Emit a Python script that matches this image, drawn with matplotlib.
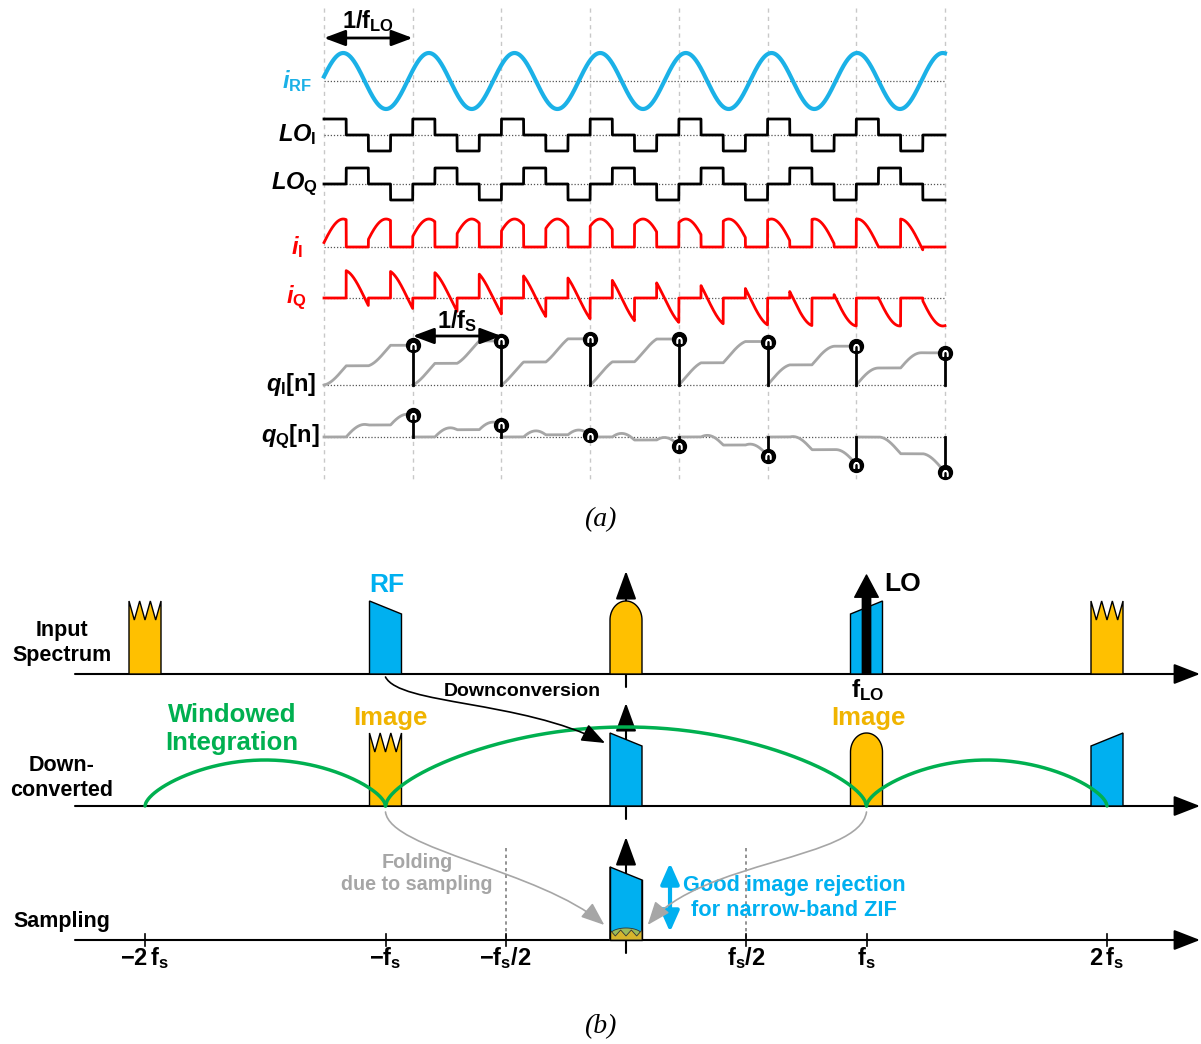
import numpy as np
import matplotlib
matplotlib.use('Agg')
import matplotlib.pyplot as plt
from matplotlib.patches import Polygon, FancyArrowPatch
from matplotlib.path import Path

plt.rcParams['mathtext.fontset'] = 'custom'
plt.rcParams['mathtext.rm'] = 'Liberation Sans:bold'
plt.rcParams['mathtext.it'] = 'Liberation Sans:bold:italic'
plt.rcParams['mathtext.bf'] = 'Liberation Sans:bold'
plt.rcParams['mathtext.sf'] = 'Liberation Sans:bold'

SANS = 'Liberation Sans'
BLUE = '#00B0F0'
YELLOW = '#FFC000'
IMG_TXT = '#F0B400'
GREEN = '#00B050'
GRAY = '#A6A6A6'

# ---------------- (a) time-domain waveforms ----------------
n_periods = 7                      # LO periods shown (fs = fLO)
rf_ratio = 7.25 / 7                # f_RF / f_LO
rf_phase = 0.16                    # rad at t = 0
lo_i_levels = [1, 0, -1, 0]        # LO_I level per quarter period
lo_q_levels = [0, 1, 0, -1]        # LO_Q level per quarter period

trace_names = ['rf', 'loi', 'loq', 'ii', 'iq', 'qi', 'qq']
trace_base = [81, 135, 184, 247, 298, 385, 437]
trace_labels = [r'$i_{\mathrm{RF}}$', r'$LO_{\mathrm{I}}$', r'$LO_{\mathrm{Q}}$',
                r'$i_{\mathrm{I}}$', r'$i_{\mathrm{Q}}$',
                r'$q_{\mathrm{I}}\mathrm{[n]}$', r'$q_{\mathrm{Q}}\mathrm{[n]}$']
trace_colors = ['#1BB1E7', 'black', 'black', '#FF0000', '#FF0000', 'black', 'black']
label_right = [-0.135, -0.09, -0.07, -0.237, -0.2, -0.08, -0.045]

# ---------------- (b) spectra ----------------
in_centers = [-2, -1, 0, 1, 2]
in_kinds = ['zigzag', 'fall', 'dome', 'rise', 'zigzag']
dc_centers = [-1, 0, 1, 2]
dc_kinds = ['zigzag', 'fall', 'dome', 'rise']
smp_centers = [0]
smp_kinds = ['fall']
lobe_edges = [-2, -1, 1, 2]
lobe_heights = [46, 79, 46]
tick_pos = [-2, -1, -0.5, 0.5, 1, 2]
tick_labels = [r'$\mathsf{-2\,f_s}$', r'$\mathsf{-f_s}$', r'$\mathsf{-f_s/2}$',
               r'$\mathsf{f_s/2}$', r'$\mathsf{f_s}$', r'$\mathsf{2\,f_s}$']

W, H = 1201, 1044
fig = plt.figure(figsize=(W / 100, H / 100), dpi=100)

# ======== panel (a) ========
ax_a = fig.add_axes([0, 1 - 500 / H, 1, 500 / H])
px_per_t = 88.71
ax_a.set_xlim(-324 / px_per_t, (W - 324) / px_per_t)
ax_a.set_ylim(500, 0)
ax_a.axis('off')

t = np.linspace(0, n_periods, 14001)
dt = t[1] - t[0]
m = (len(t) - 1) // n_periods
rf = np.sin(2 * np.pi * rf_ratio * t + rf_phase)
quarter = (np.minimum(np.floor(t * 4), 4 * n_periods - 1) % 4).astype(int)
lo_i = np.array(lo_i_levels)[quarter]
lo_q = np.array(lo_q_levels)[quarter]
i_i = rf * lo_i
i_q = rf * lo_q

base = dict(zip(trace_names, trace_base))

for k in range(n_periods + 1):
    ax_a.plot([k, k], [8, 482], color='#C8C8C8', lw=1, ls=(0, (3, 3)), zorder=0)
for b in trace_base:
    ax_a.plot([0, n_periods], [b, b], color='#555555', lw=0.9, ls=(0, (1, 1.5)), zorder=1)

ax_a.plot(t, base['rf'] - 28 * rf, color=trace_colors[0], lw=3, zorder=3)
ax_a.plot(t, base['loi'] - 16 * lo_i, color='black', lw=2, zorder=3)
ax_a.plot(t, base['loq'] - 16 * lo_q, color='black', lw=2, zorder=3)
ax_a.plot(t, base['ii'] - 28 * i_i, color='#FF0000', lw=2, zorder=3)
ax_a.plot(t, base['iq'] - 28 * i_q, color='#FF0000', lw=2, zorder=3)

# windowed integration, reset every sample period
q_gain = 104
for name, sig in (('qi', i_i), ('qq', i_q)):
    b = base[name]
    for k in range(n_periods):
        seg = sig[k * m:(k + 1) * m + 1]
        acc = np.concatenate([[0], np.cumsum((seg[1:] + seg[:-1]) / 2 * dt)])
        ax_a.plot(t[k * m:(k + 1) * m + 1], b - q_gain * acc, color=GRAY, lw=2, zorder=3)
        ax_a.plot([k + 1, k + 1], [b, b - q_gain * acc[-1]], color='black', lw=2, zorder=4)
        ax_a.plot(k + 1, b - q_gain * acc[-1], 'o', ms=10, color='black', zorder=5)
        ax_a.plot(k + 1, b - q_gain * acc[-1] + 0.5, marker=r'$\cap$', ms=4, color='white', zorder=6)

for lab, col, xr, b in zip(trace_labels, trace_colors, label_right, trace_base):
    ax_a.text(xr, b, lab, ha='right', va='center', fontsize=17, color=col)

ax_a.annotate('', xy=(0, 38), xytext=(1, 38),
              arrowprops=dict(arrowstyle='<|-|>,head_length=0.8,head_width=0.3', lw=2,
                              color='black', mutation_scale=16, shrinkA=0, shrinkB=0))
ax_a.text(0.5, 21, r'$1/\mathrm{f}_{\mathrm{LO}}$', ha='center', va='center', fontsize=17)
ax_a.annotate('', xy=(1, 336), xytext=(2, 336),
              arrowprops=dict(arrowstyle='<|-|>,head_length=0.8,head_width=0.3', lw=2,
                              color='black', mutation_scale=16, shrinkA=0, shrinkB=0))
ax_a.text(1.5, 321, r'$1/\mathrm{f}_{\mathrm{S}}$', ha='center', va='center', fontsize=17)

# ======== panel (b) ========
ax_b = fig.add_axes([0, 0, 1, 544 / H])
fs_px = 240.5
ax_b.set_xlim(-626 / fs_px, (W - 626) / fs_px)
ax_b.set_ylim(H, 500)
ax_b.axis('off')

rows = [674, 806, 940]
hw = 16 / fs_px
tall, short, shoulder = 73, 60, 54


def band(c, y0, kind):
    if kind == 'zigzag':
        xs = c + np.linspace(-hw, hw, 7)
        ys = [y0 - (tall if j % 2 == 0 else shoulder) for j in range(7)]
        pts = [(c - hw, y0)] + list(zip(xs, ys)) + [(c + hw, y0)]
        col = YELLOW
    elif kind == 'dome':
        th = np.linspace(np.pi, 0, 40)
        pts = [(c - hw, y0)] + list(zip(c + hw * np.cos(th),
                                        y0 - shoulder - 19 * np.sin(th))) + [(c + hw, y0)]
        col = YELLOW
    else:
        hl, hr = (tall, short) if kind == 'fall' else (short, tall)
        pts = [(c - hw, y0), (c - hw, y0 - hl), (c + hw, y0 - hr), (c + hw, y0)]
        col = BLUE
    ax_b.add_patch(Polygon(pts, closed=True, fc=col, ec='black', lw=1, zorder=3))


for y0, centers, kinds in zip(rows, [in_centers, dc_centers, smp_centers],
                              [in_kinds, dc_kinds, smp_kinds]):
    for c, kd in zip(centers, kinds):
        band(c, y0, kd)
    # frequency axis
    ax_b.annotate('', xy=((W - 1 - 626) / fs_px, y0), xytext=(-551 / fs_px, y0),
                  arrowprops=dict(arrowstyle='-|>,head_length=0.9,head_width=0.35',
                                  lw=1.5, color='black', mutation_scale=18,
                                  shrinkA=0, shrinkB=0), zorder=2)
    # DC arrow (drawn beneath the bands)
    ax_b.annotate('', xy=(0, y0 - 103), xytext=(0, y0 + 13),
                  arrowprops=dict(arrowstyle='-|>,head_length=1.1,head_width=0.4',
                                  lw=1.5, color='black', mutation_scale=16,
                                  shrinkA=0, shrinkB=0), zorder=2)

# aliased image folded on top of DC after sampling
y3 = rows[2]
th = np.linspace(np.pi, 0, 40)
ax_b.add_patch(Polygon([(-hw, y3)] + list(zip(hw * np.cos(th), y3 - 5 - 7 * np.sin(th))) + [(hw, y3)],
                       closed=True, fc='#9BBB59', ec='#333333', lw=0.6, zorder=5))
zx = np.linspace(-hw, hw, 7)
zy = [y3 - (10 if j % 2 == 0 else 4) for j in range(7)]
ax_b.add_patch(Polygon([(-hw, y3)] + list(zip(zx, zy)) + [(hw, y3)],
                       closed=True, fc='#D6B52C', ec='#333333', lw=0.6, zorder=6))
ax_b.plot([-hw, -hw, hw, hw], [y3 - 73, y3, y3, y3 - 60], color='black', lw=1, zorder=7)

# LO tone
ax_b.annotate('', xy=(1.0, 575), xytext=(1.0, 674),
              arrowprops=dict(arrowstyle='simple,head_length=0.8,head_width=0.85,tail_width=0.3',
                              fc='black', ec='black', mutation_scale=20, shrinkA=0, shrinkB=0),
              zorder=5)

# windowed-integration response
for a, b, h in zip(lobe_edges[:-1], lobe_edges[1:], lobe_heights):
    f = np.linspace(a, b, 300)
    ax_b.plot(f, rows[1] - h * np.sin(np.pi * (f - a) / (b - a)) ** 0.6,
              color=GREEN, lw=2.5, zorder=6, solid_capstyle='round')

# ticks on the sampled axis
for p, lab in zip(tick_pos, tick_labels):
    ax_b.plot([p, p], [y3 - 6, y3 + 6], color='black', lw=1.2, zorder=4)
    ax_b.text(p, 958, lab, ha='center', va='center', fontsize=17)
for p in (-0.5, 0.5):
    ax_b.plot([p, p], [848, y3], color='#808080', lw=1.2, ls=(0, (2, 2)), zorder=1)


# curved arrows
def curve(verts, color, lw, ms):
    path = Path(verts, [Path.MOVETO, Path.CURVE4, Path.CURVE4, Path.CURVE4])
    ax_b.add_patch(FancyArrowPatch(path=path, arrowstyle='-|>,head_length=0.9,head_width=0.35',
                                   color=color, lw=lw, mutation_scale=ms, zorder=8))


curve([(-1.0, 677), (-0.94, 705), (-0.44, 700), (-0.087, 743)], 'black', 1.2, 16)
curve([(-1.0, 812), (-0.98, 850), (-0.36, 870), (-0.09, 925)], GRAY, 1.2, 16)
curve([(1.0, 812), (0.97, 860), (0.31, 860), (0.09, 925)], GRAY, 1.2, 16)

ax_b.annotate('', xy=(0.183, 863), xytext=(0.183, 932),
              arrowprops=dict(arrowstyle='<|-|>,head_length=0.9,head_width=0.4', lw=3,
                              color=BLUE, mutation_scale=14, shrinkA=0, shrinkB=0))

txt = dict(fontfamily=SANS, fontweight='bold', ha='center', va='center')
ax_b.text(-2.345, 643, 'Input\nSpectrum', fontsize=15.5, **txt)
ax_b.text(-2.345, 778, 'Down-\nconverted', fontsize=15.5, **txt)
ax_b.text(-2.345, 921, 'Sampling', fontsize=15.5, **txt)
ax_b.text(-0.994, 585, 'RF', fontsize=19, color=BLUE, **txt)
ax_b.text(1.152, 584, 'LO', fontsize=19, **txt)
ax_b.text(1.006, 690, r'$\mathsf{f_{LO}}$', fontsize=17.5, ha='center', va='center')
ax_b.text(-0.981, 718, 'Image', fontsize=18.5, color=IMG_TXT, **txt)
ax_b.text(1.006, 718, 'Image', fontsize=18.5, color=IMG_TXT, **txt)
ax_b.text(-1.638, 729, 'Windowed\nIntegration', fontsize=18.5, color=GREEN, **txt)
ax_b.text(-0.432, 692, 'Downconversion', fontsize=14, **txt)
ax_b.text(-0.869, 874, 'Folding\ndue to sampling', fontsize=14.2, color=GRAY, **txt)
ax_b.text(0.699, 898, 'Good image rejection\nfor narrow-band ZIF', fontsize=15.7, color=BLUE, **txt)

cap = dict(family='Liberation Serif', style='italic', fontsize=20, ha='center', va='center')
fig.text(0.5, 1 - 520 / H, '(a)', **cap)
fig.text(0.5, 1 - 1027 / H, '(b)', **cap)

fig.savefig('out.png', dpi=100)
